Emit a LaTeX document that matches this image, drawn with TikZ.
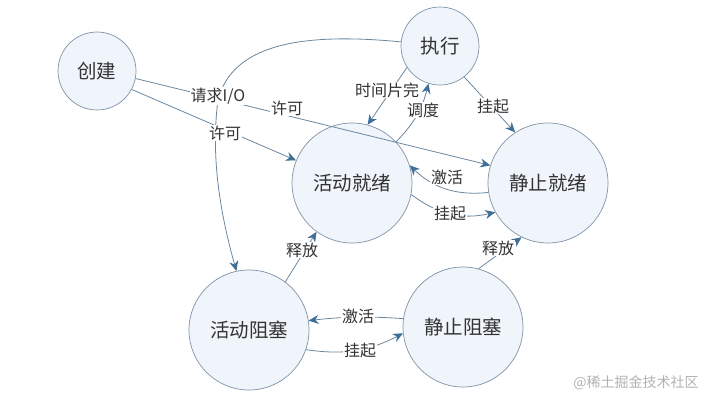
\documentclass[tikz,border=0pt]{standalone}
\usepackage{fontspec}
\setmainfont{Noto Sans CJK SC}
\usetikzlibrary{arrows.meta}
\definecolor{circfill}{HTML}{F0F5FB}
\definecolor{circline}{HTML}{7F93A8}
\definecolor{edgeline}{HTML}{6A879F}
\definecolor{tipblue}{HTML}{3F6F96}
\definecolor{txt}{HTML}{333333}
\tikzset{
  state/.style={circle, draw=circline, fill=circfill, line width=0.7pt, inner sep=0pt,
    minimum size=120pt, font=\fontsize{19.5}{21}\selectfont, text=txt},
  smallstate/.style={state, minimum size=78pt},
  edge/.style={draw=edgeline, line width=0.8pt, -{Stealth[length=10pt,width=9pt,color=tipblue]}},
  lbl/.style={fill=white, inner sep=1pt, font=\fontsize{16}{18}\selectfont, text=txt},
}
\begin{document}
\begin{tikzpicture}[x=1pt,y=-1pt]
\useasboundingbox (0,0) rectangle (716,405);
\node[smallstate] (cj) at (97,71) {创建};
\node[smallstate] (zx) at (440,46) {执行};
\node[state] (hj) at (352,183) {活动就绪};
\node[state] (jj) at (548,183) {静止就绪};
\node[state] (hz) at (249,330) {活动阻塞};
\node[state] (jz) at (463,327) {静止阻塞};

\draw[edge] (cj.332) -- (hj.158);
\draw[edge] (cj.349) -- (jj.163);
\draw[edge] (zx.174) .. controls (300,32) and (232,45) .. (218,100) .. controls (210,160) and (222,220) .. (hz.102);
\draw[edge] (zx.213) -- (hj.75);
\draw[edge] (hj.43) to[bend right=15] (zx.253);
\draw[edge] (zx.308) -- (jj.123);
\draw[edge] (jj.189) to[bend left=25] (hj.17);
\draw[edge] (hj.349) to[bend right=25] (jj.209);
\draw[edge] (hz.53) -- (hj.234);
\draw[edge] (jz.75) -- (jj.244);
\draw[edge] (jz.172) to[bend right=5] (hz.9);
\draw[edge] (hz.341) to[bend right=18] (jz.186);

\node[lbl] (l1) at (218,96) {请求I/O};
\node[lbl] (l2) at (287,108) {许可};
\node[lbl] (l3) at (225,133) {许可};
\node[lbl] (l4) at (387,90) {时间片完};
\node[lbl] (l5) at (423,110) {调度};
\node[lbl] (l6) at (493,106) {挂起};
\node[lbl] (l7) at (447,177) {激活};
\node[lbl] (l8) at (450,213) {挂起};
\node[lbl] (l9) at (498,248) {释放};
\node[lbl] (l10) at (302,250) {释放};
\node[lbl] (l11) at (358,316) {激活};
\node[lbl] (l12) at (360,350) {挂起};
\node[text=gray!60, font=\fontsize{14}{15}\selectfont] (wm) at (636,383) {@稀土掘金技术社区};
\end{tikzpicture}
\end{document}
